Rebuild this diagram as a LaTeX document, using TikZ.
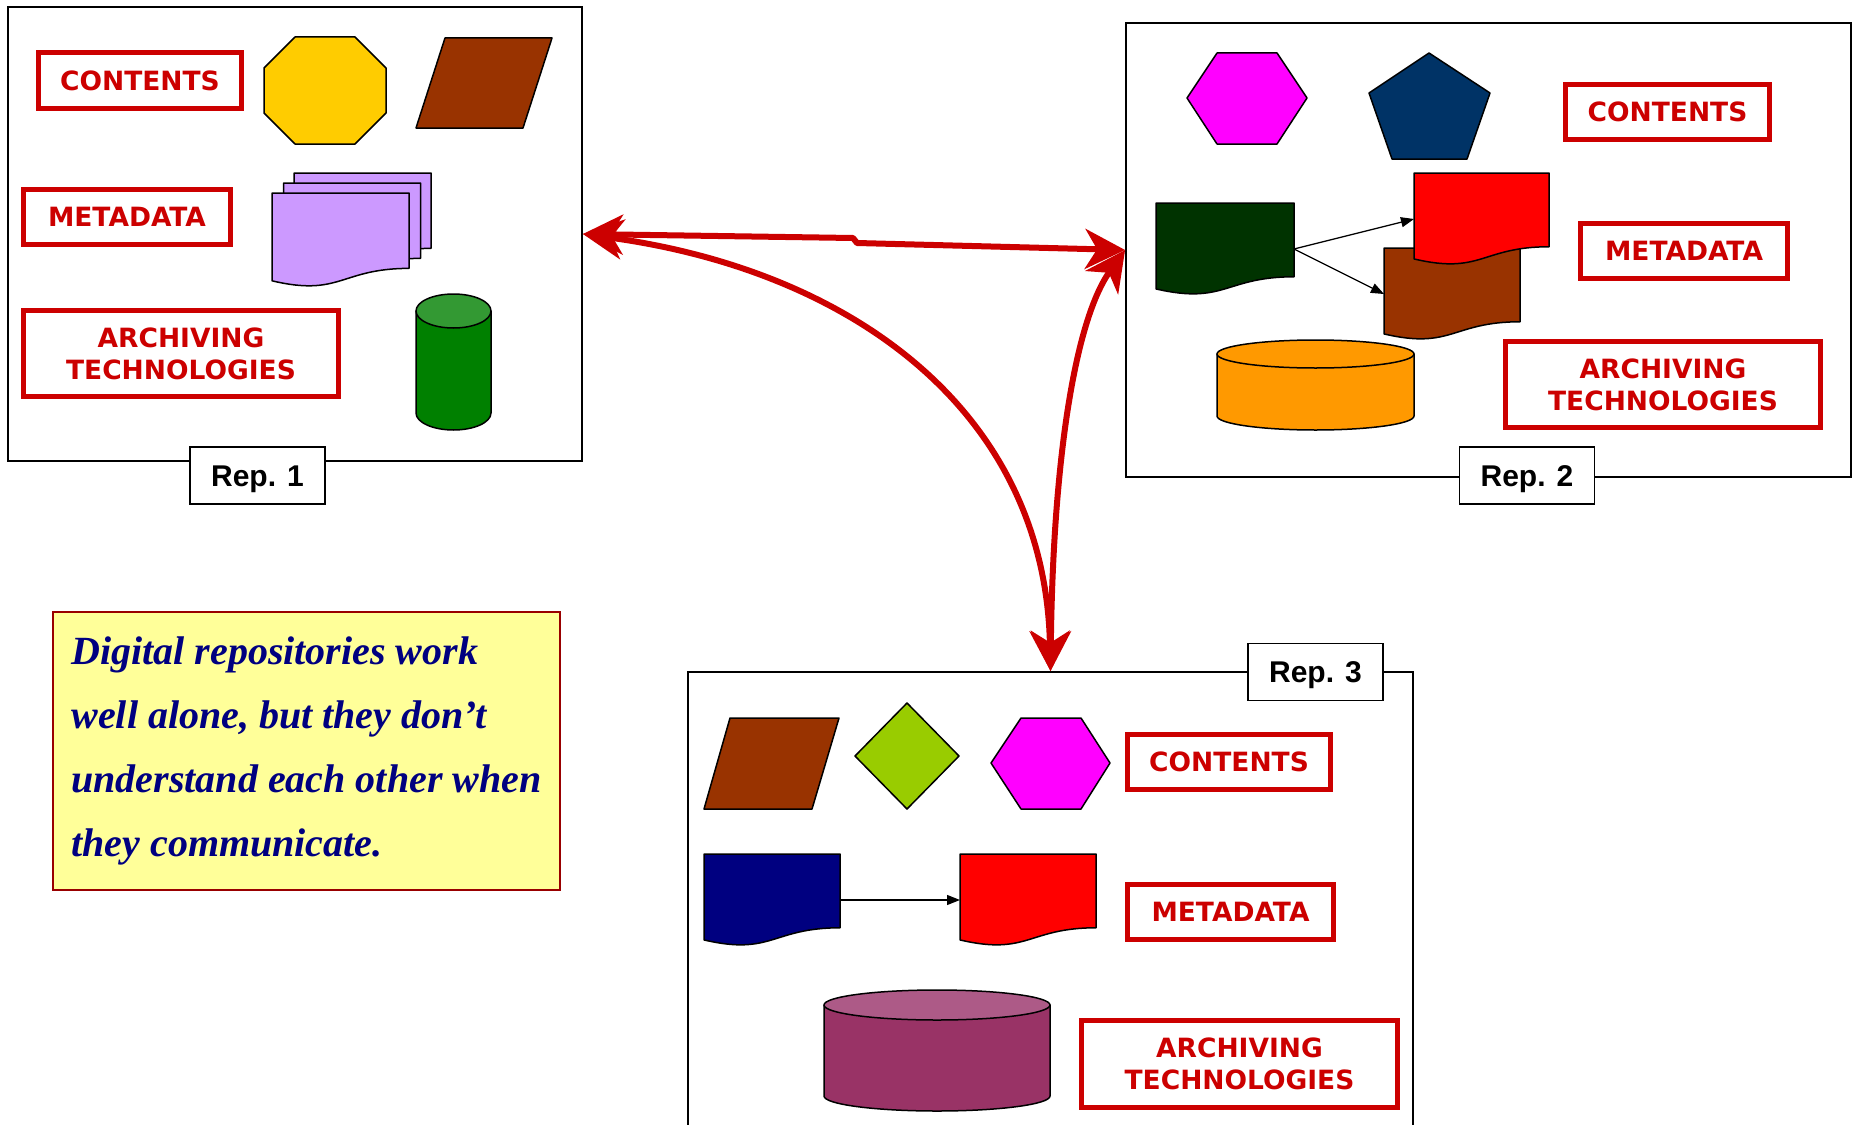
\documentclass[tikz,border=0pt]{standalone}
\usepackage{fontspec}
\newfontfamily\tagfont{DejaVu Sans}
\newfontfamily\repfont{Liberation Sans}
\newfontfamily\notefont{Liberation Serif}
\usepackage{tikz}
\usetikzlibrary{arrows.meta, calc, positioning}

\definecolor{tagred}{HTML}{CC0000}
\definecolor{octyellow}{HTML}{FFCC00}
\definecolor{rustbrown}{HTML}{993300}
\definecolor{lilac}{HTML}{CC99FF}
\definecolor{cylgreen}{HTML}{008000}
\definecolor{cylgreentop}{HTML}{339933}
\definecolor{hexmagenta}{HTML}{FF00FF}
\definecolor{pentnavy}{HTML}{003366}
\definecolor{docgreen}{HTML}{003300}
\definecolor{docred}{HTML}{FF0000}
\definecolor{cylorange}{HTML}{FF9900}
\definecolor{lime}{HTML}{99CC00}
\definecolor{docblue}{HTML}{000080}
\definecolor{cylpurple}{HTML}{993366}
\definecolor{cylpurpletop}{HTML}{AD5A87}
\definecolor{noteyellow}{HTML}{FFFF99}
\definecolor{noteborder}{HTML}{990000}

% sheet with a wavy lower edge, drawn in the frame of a node
\newcommand{\drawdoc}[2]{%
  \draw[shapeline, fill=#2] (#1.north west) -- (#1.north east)
    -- ($(#1.north east)!0.802!(#1.south east)$)
    .. controls ($(#1.north)!0.802!(#1.south)$) and ($(#1.north)!1.1075!(#1.south)$)
    .. ($(#1.north west)!0.934!(#1.south west)$) -- cycle;}

% cylinder in the frame of a node: name, body, top, x radius, y radius
\newcommand{\drawcyl}[5]{%
  \draw[shapeline, fill=#2] ([yshift=-#5pt]#1.north west) -- ([yshift=#5pt]#1.south west)
    arc[start angle=180, end angle=360, x radius=#4pt, y radius=#5pt]
    -- ([yshift=-#5pt]#1.north east) -- cycle;
  \draw[shapeline, fill=#3] ([yshift=-#5pt]#1.north) ellipse[x radius=#4pt, y radius=#5pt];}

\begin{document}
\begin{tikzpicture}[
                x=1pt, y=-1pt,
                repbox/.style={draw, line width=1.8pt, inner sep=0pt},
                reptag/.style={draw, line width=1.8pt, fill=white, minimum width=135pt, minimum height=57pt,
                    text height=21.5pt, text depth=0pt, font=\repfont\bfseries\fontsize{30pt}{36pt}\selectfont},
                tag/.style={draw=tagred, line width=5pt, fill=white, text=tagred, align=center, minimum height=55pt,
                    font=\tagfont\bfseries\fontsize{26.5pt}{32pt}\selectfont},
                docbox/.style={inner sep=0pt, outer sep=0pt, minimum width=136pt, minimum height=92pt},
                cylbox/.style={inner sep=0pt, outer sep=0pt},
                shapeline/.style={draw=black, line width=1.5pt, line join=round},
                note/.style={draw=noteborder, line width=1.5pt, fill=noteyellow, text=docblue, align=left,
                    minimum width=507pt, minimum height=278pt,
                    font=\notefont\bfseries\itshape\fontsize{40pt}{64pt}\selectfont},
                link/.style={draw=tagred, line width=6pt, line join=round,
                    >={Stealth[length=40pt, width=40pt, inset=12pt]}, <->},
                flow/.style={line width=1.3pt, >={Triangle[length=13pt, width=10pt]}, ->}
            ]
                \useasboundingbox (0,0) rectangle (1854,1124);

                % repositories
                \node[repbox, minimum width=574pt, minimum height=454pt] (rep1) at (295,234) {};
                \node[repbox, minimum width=725pt, minimum height=454pt] (rep2) at (1488.5,250) {};
                \node[repbox, minimum width=725pt, minimum height=480pt] (rep3) at (1050.5,912) {};

                % Rep. 1
                \node[tag, minimum width=203pt] (cont1) at (140,80.5) {CONTENTS};
                \node[tag, minimum width=207pt] (meta1) at (127,217) {METADATA};
                \node[tag, minimum width=315pt, minimum height=86pt] (arch1) at (181,353.5) {ARCHIVING\\TECHNOLOGIES};
                \draw[shapeline, fill=octyellow] (295,37) -- (355,37) -- (386,68) -- (386,113) -- (355,144)
                    -- (295,144) -- (264,113) -- (264,68) -- cycle;
                \draw[shapeline, fill=rustbrown] (445,38) -- (552,38) -- (523,128) -- (416,128) -- cycle;
                \node[docbox, minimum width=137pt, minimum height=94pt] (page3) at (362.5,220) {};
                \node[docbox, minimum width=137pt, minimum height=94pt] (page2) at (352,230) {};
                \node[docbox, minimum width=137pt, minimum height=94pt] (page1) at (340.5,240) {};
                \drawdoc{page3}{lilac}
                \drawdoc{page2}{lilac}
                \drawdoc{page1}{lilac}
                \node[cylbox, minimum width=75pt, minimum height=136pt] (cyl1) at (453.5,362) {};
                \drawcyl{cyl1}{cylgreen}{cylgreentop}{37.5}{17}
                \node[reptag] (tag1) at (257.5,475.5) {Rep. 1};

                % Rep. 2
                \draw[shapeline, fill=hexmagenta] (1217,53) -- (1277,53) -- (1307,98) -- (1277,144)
                    -- (1217,144) -- (1187,98) -- cycle;
                \draw[shapeline, fill=pentnavy] (1429,53) -- (1490,93) -- (1467,159) -- (1392,159) -- (1369,93) -- cycle;
                \node[tag, minimum width=204pt] (cont2) at (1667.5,111.5) {CONTENTS};
                \node[docbox, minimum width=138pt] (srcdoc) at (1225,249) {};
                \node[docbox] (copydoc) at (1452,294) {};
                \node[docbox, minimum width=135pt] (newdoc) at (1481.5,219) {};
                \drawdoc{srcdoc}{docgreen}
                \drawdoc{copydoc}{rustbrown}
                \drawdoc{newdoc}{docred}
                \draw[flow] (srcdoc.east) -- (newdoc.west);
                \draw[flow] (srcdoc.east) -- (copydoc.west);
                \node[tag, minimum width=207pt] (meta2) at (1684,251) {METADATA};
                \node[cylbox, minimum width=197pt, minimum height=90pt] (cyl2) at (1315.5,385) {};
                \drawcyl{cyl2}{cylorange}{cylorange}{98.5}{14}
                \node[tag, minimum width=315pt, minimum height=86pt] (arch2) at (1663,384.5) {ARCHIVING\\TECHNOLOGIES};
                \node[reptag] (tag2) at (1527,475.5) {Rep. 2};

                % Rep. 3
                \draw[shapeline, fill=rustbrown] (730,718) -- (839,718) -- (812,809) -- (704,809) -- cycle;
                \draw[shapeline, fill=lime] (907,703) -- (959,756) -- (907,809) -- (855,756) -- cycle;
                \draw[shapeline, fill=hexmagenta] (1021,718) -- (1081,718) -- (1110,763) -- (1081,809)
                    -- (1021,809) -- (991,763) -- cycle;
                \node[tag, minimum width=203pt] (cont3) at (1229,761.5) {CONTENTS};
                \node[docbox] (bluedoc) at (772,900) {};
                \node[docbox] (reddoc) at (1028,900) {};
                \drawdoc{bluedoc}{docblue}
                \drawdoc{reddoc}{docred}
                \draw[flow] (bluedoc.east) -- (reddoc.west);
                \node[tag, minimum width=206pt] (meta3) at (1230.5,912) {METADATA};
                \node[cylbox, minimum width=226pt, minimum height=121pt] (cyl3) at (937,1050.5) {};
                \drawcyl{cyl3}{cylpurple}{cylpurpletop}{113}{15}
                \node[tag, minimum width=316pt, minimum height=87pt] (arch3) at (1239.5,1064) {ARCHIVING\\TECHNOLOGIES};
                \node[reptag] (tag3) at (1315.5,672) {Rep. 3};

                % note
                \node[note] (remark) at (306.5,751) {Digital repositories work\\well alone, but they don’t\\understand each other when\\they communicate.};

                % links between repositories
                \draw[link] (rep1.east) -- (853,238) -- (857,243) -- (rep2.west);
                \draw[link] (rep1.east) .. controls (850,270) and (1045,410) .. (rep3.north);
                \draw[link] (rep3.north) .. controls (1053,460) and (1075,320) .. (rep2.west);
            \end{tikzpicture}
\end{document}
